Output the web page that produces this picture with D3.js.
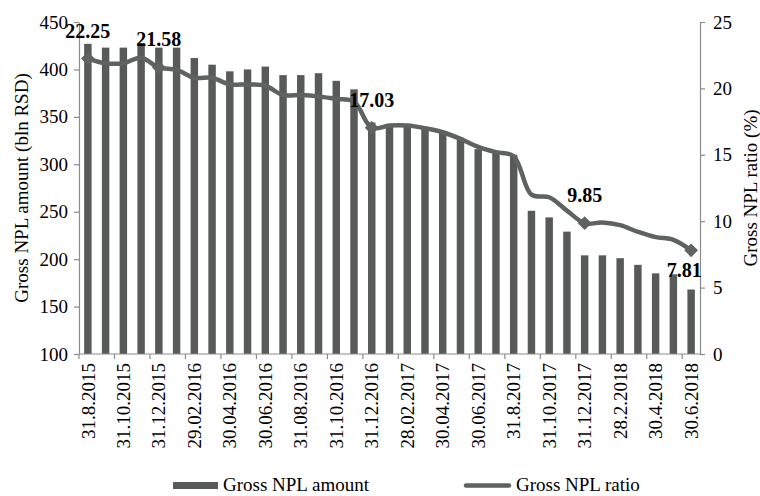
<!DOCTYPE html>
<html>
<head>
<meta charset="utf-8">
<script src="https://cdn.jsdelivr.net/npm/d3@7"></script>
<style>
  body { margin: 0; background: #fff; }
  svg text { font-family: "Liberation Serif", "Times New Roman", serif; fill: #000; }
</style>
</head>
<body>
<div id="chart"></div>
<script>
// months, end of month
const dates = [
  '31.8.2015', '30.9.2015', '31.10.2015', '30.11.2015', '31.12.2015',
  '31.1.2016', '29.02.2016', '31.3.2016', '30.04.2016', '31.5.2016', '30.06.2016',
  '31.7.2016', '31.08.2016', '30.9.2016', '31.10.2016', '30.11.2016', '31.12.2016',
  '31.1.2017', '28.02.2017', '31.3.2017', '30.04.2017', '31.5.2017', '30.06.2017',
  '31.7.2017', '31.8.2017', '30.9.2017', '31.10.2017', '30.11.2017', '31.12.2017',
  '31.1.2018', '28.2.2018', '31.3.2018', '30.4.2018', '31.5.2018', '30.6.2018'
];
const nplAmount = [
  427, 423, 423, 428, 423, 423, 412, 405, 398, 400, 403, 394,
  394, 396, 388, 379, 344, 342, 341, 339, 335, 328, 316, 312,
  310, 251, 244, 229, 204, 204, 201, 194, 185, 184, 168
];
const nplRatio = [
  22.25, 21.9, 21.9, 22.3, 21.58, 21.4, 20.8, 20.8, 20.3, 20.3, 20.2, 19.5,
  19.5, 19.4, 19.2, 19.0, 17.03, 17.2, 17.2, 17.0, 16.7, 16.2, 15.6, 15.2,
  14.9, 12.0, 11.8, 10.8, 9.85, 9.9, 9.7, 9.2, 8.8, 8.6, 7.81
];
// points that carry a marker and a value label
const labelled = [0, 4, 16, 28, 34];
const leftTicks = [100, 150, 200, 250, 300, 350, 400, 450];
const rightTicks = [0, 5, 10, 15, 20, 25];

const width = 760, height = 496;
const margin = { top: 22, right: 60, bottom: 142, left: 79 };
const barColor = '#585a5a';
const lineColor = '#5f6262';
const axisColor = '#8c8c8c';

const svg = d3.select('#chart').append('svg')
  .attr('width', width)
  .attr('height', height);

const x = d3.scaleBand()
  .domain(dates)
  .range([margin.left, width - margin.right])
  .paddingInner(0.58)
  .paddingOuter(0.29);
const step = x.step();
const cx = d => x(d) + x.bandwidth() / 2;

const yL = d3.scaleLinear().domain([100, 450]).range([height - margin.bottom, margin.top]);
const yR = d3.scaleLinear().domain([0, 25]).range([height - margin.bottom, margin.top]);

// bars
svg.append('g')
  .selectAll('rect')
  .data(dates)
  .enter()
  .append('rect')
  .attr('x', d => x(d))
  .attr('width', x.bandwidth())
  .attr('y', (d, i) => yL(nplAmount[i]))
  .attr('height', (d, i) => yL(100) - yL(nplAmount[i]))
  .attr('fill', barColor);

// axes
const styleAxis = g => {
  g.select('.domain').attr('stroke', axisColor).attr('stroke-width', 1.2);
  g.selectAll('.tick line').attr('stroke', axisColor).attr('stroke-width', 1.2);
  g.selectAll('.tick text').style('font-size', '19px').attr('fill', '#000');
};

svg.append('g')
  .attr('transform', `translate(${margin.left},0)`)
  .call(d3.axisLeft(yL).tickValues(leftTicks).tickSize(5).tickSizeOuter(0).tickPadding(6))
  .call(styleAxis);

svg.append('g')
  .attr('transform', `translate(${width - margin.right},0)`)
  .call(d3.axisRight(yR).tickValues(rightTicks).tickSize(5).tickSizeOuter(0).tickPadding(8))
  .call(styleAxis);

// x axis: line plus tick every second month boundary
const xAxis = svg.append('g');
const baseY = yL(100);
xAxis.append('line')
  .attr('x1', margin.left).attr('x2', width - margin.right)
  .attr('y1', baseY).attr('y2', baseY)
  .attr('stroke', axisColor).attr('stroke-width', 1.2);
xAxis.selectAll('line.tk')
  .data(dates.filter((d, i) => i % 2 === 0))
  .enter()
  .append('line')
  .attr('class', 'tk')
  .attr('x1', d => x(d) - (step - x.bandwidth()) / 2)
  .attr('x2', d => x(d) - (step - x.bandwidth()) / 2)
  .attr('y1', baseY).attr('y2', baseY + 5)
  .attr('stroke', axisColor).attr('stroke-width', 1.2);
xAxis.selectAll('text')
  .data(dates.filter((d, i) => i % 2 === 0))
  .enter()
  .append('text')
  .attr('transform', d => `translate(${cx(d)},${baseY + 9}) rotate(-90)`)
  .attr('text-anchor', 'end')
  .attr('dy', '0.35em')
  .style('font-size', '19px')
  .text(d => d);

// ratio line
const line = d3.line()
  .x((d, i) => cx(dates[i]))
  .y(d => yR(d))
  .curve(d3.curveCatmullRom.alpha(0.5));

svg.append('path')
  .datum(nplRatio)
  .attr('d', line)
  .attr('fill', 'none')
  .attr('stroke', lineColor)
  .attr('stroke-width', 4.5)
  .attr('stroke-linejoin', 'round');

svg.append('g')
  .selectAll('path')
  .data(labelled)
  .enter()
  .append('path')
  .attr('d', d3.symbol().type(d3.symbolSquare).size(95))
  .attr('transform', i => `translate(${cx(dates[i])},${yR(nplRatio[i])}) rotate(45)`)
  .attr('fill', lineColor);

svg.append('g')
  .selectAll('text')
  .data(labelled)
  .enter()
  .append('text')
  .attr('x', i => cx(dates[i]) - (i === nplRatio.length - 1 ? 7 : 0))
  .attr('y', i => yR(nplRatio[i]) + (i === nplRatio.length - 1 ? 27 : -21))
  .attr('text-anchor', 'middle')
  .style('font-size', '20px')
  .style('font-weight', 'bold')
  .text(i => nplRatio[i].toFixed(2));

// axis titles
svg.append('text')
  .attr('transform', `translate(28,${(margin.top + baseY) / 2}) rotate(-90)`)
  .attr('text-anchor', 'middle')
  .style('font-size', '19px')
  .text('Gross NPL amount (bln RSD)');

svg.append('text')
  .attr('transform', `translate(757,${(margin.top + baseY) / 2}) rotate(-90)`)
  .attr('text-anchor', 'middle')
  .style('font-size', '19px')
  .text('Gross NPL ratio (%)');

// legend
const legend = svg.append('g');
legend.append('rect')
  .attr('x', 173).attr('y', 482)
  .attr('width', 45).attr('height', 7)
  .attr('fill', barColor);
legend.append('text')
  .attr('x', 223).attr('y', 491)
  .style('font-size', '19px')
  .text('Gross NPL amount');
legend.append('line')
  .attr('x1', 466).attr('x2', 509)
  .attr('y1', 485.5).attr('y2', 485.5)
  .attr('stroke', lineColor).attr('stroke-width', 4.5)
  .attr('stroke-linecap', 'round');
legend.append('text')
  .attr('x', 516).attr('y', 491)
  .style('font-size', '19px')
  .text('Gross NPL ratio');
</script>
</body>
</html>
